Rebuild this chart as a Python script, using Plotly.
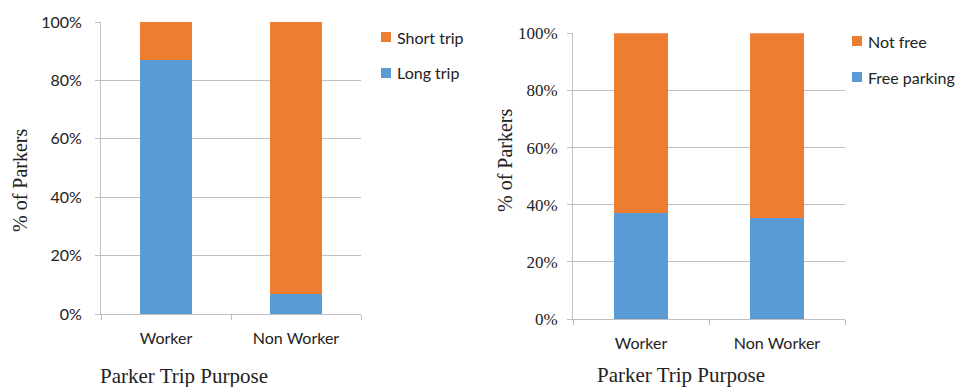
import plotly.graph_objects as go

# Parker trip purpose categories
purposes = ["Worker", "Non Worker"]

# Left panel: trip length split (share of parkers)
long_trip = [0.87, 0.07]
short_trip = [0.13, 0.93]

# Right panel: parking cost split (share of parkers)
free_parking = [0.37, 0.355]
not_free = [0.63, 0.645]

y_ticks = [0, 0.2, 0.4, 0.6, 0.8, 1.0]
y_ticklabels = ["0%", "20%", "40%", "60%", "80%", "100%"]

BLUE = "#5B9BD5"
ORANGE = "#ED7D31"
GRID = "#C0C0C0"
TEXT = "#222222"
SANS = "Lato"
SERIF = "Liberation Serif"

W, H = 959, 387

fig = go.Figure()

series = [
    (long_trip, "Long trip", BLUE, "x", "y"),
    (short_trip, "Short trip", ORANGE, "x", "y"),
    (free_parking, "Free parking", BLUE, "x2", "y2"),
    (not_free, "Not free", ORANGE, "x2", "y2"),
]
for vals, name, color, xa, ya in series:
    fig.add_trace(go.Bar(x=purposes, y=vals, name=name, marker_color=color,
                         marker_line_width=0, width=0.4, xaxis=xa, yaxis=ya,
                         showlegend=False))


def xaxis(domain, anchor):
    return dict(domain=domain, anchor=anchor, type="category", automargin=False,
                showline=True, linecolor=GRID, linewidth=1,
                ticks="outside", ticklen=5, tickcolor=GRID, tickson="boundaries",
                showgrid=False, ticklabelstandoff=10,
                tickfont=dict(family=SANS, size=16, color=TEXT))


def yaxis(domain, anchor, tick_font, standoff):
    return dict(domain=domain, anchor=anchor, range=[0, 1], automargin=False,
                tickvals=y_ticks, ticktext=y_ticklabels,
                showline=True, linecolor=GRID, linewidth=1,
                ticks="outside", ticklen=5, tickcolor=GRID,
                showgrid=True, gridcolor=GRID, gridwidth=1, zeroline=False,
                ticklabelstandoff=standoff, tickfont=tick_font)


fig.update_layout(
    width=W, height=H, autosize=False,
    margin=dict(l=0, r=0, t=0, b=0, autoexpand=False),
    paper_bgcolor="white", plot_bgcolor="white",
    barmode="stack", showlegend=False,
    xaxis=xaxis([101 / W, 361 / W], "y"),
    yaxis=yaxis([73 / H, 365 / H], "x", dict(family=SANS, size=16, color=TEXT), 10),
    xaxis2=xaxis([573 / W, 845 / W], "y2"),
    yaxis2=yaxis([68 / H, 353.7 / H], "x2", dict(family=SERIF, size=17, color=TEXT), 6),
)


# Legend keys: colour swatch plus label, listed top to bottom (px positions)
def legend_item(px_left, py_center, color, label):
    fig.add_shape(type="rect", xref="paper", yref="paper", line_width=0,
                  fillcolor=color,
                  x0=px_left / W, x1=(px_left + 10) / W,
                  y0=1 - (py_center + 5) / H, y1=1 - (py_center - 5) / H)
    fig.add_annotation(text=label, xref="paper", yref="paper",
                       x=(px_left + 14) / W, y=1 - py_center / H,
                       xanchor="left", yanchor="middle", showarrow=False,
                       font=dict(family=SANS, size=16, color=TEXT))


legend_item(381, 37, ORANGE, "Short trip")
legend_item(381, 73, BLUE, "Long trip")
legend_item(852, 41, ORANGE, "Not free")
legend_item(852, 77, BLUE, "Free parking")

ytitle_font = dict(family=SERIF, size=20, color=TEXT)
xtitle_font = dict(family=SERIF, size=21, color=TEXT)
fig.add_annotation(text="% of Parkers", xref="paper", yref="paper",
                   x=20 / W, y=1 - 180 / H, textangle=-90, showarrow=False,
                   xanchor="center", yanchor="middle", font=ytitle_font)
fig.add_annotation(text="% of Parkers", xref="paper", yref="paper",
                   x=505 / W, y=1 - 160 / H, textangle=-90, showarrow=False,
                   xanchor="center", yanchor="middle", font=ytitle_font)
fig.add_annotation(text="Parker Trip Purpose", xref="paper", yref="paper",
                   x=98 / W, y=1 - 376 / H, showarrow=False,
                   xanchor="left", yanchor="middle", font=xtitle_font)
fig.add_annotation(text="Parker Trip Purpose", xref="paper", yref="paper",
                   x=595 / W, y=1 - 375 / H, showarrow=False,
                   xanchor="left", yanchor="middle", font=xtitle_font)

fig.write_html("out.html")
